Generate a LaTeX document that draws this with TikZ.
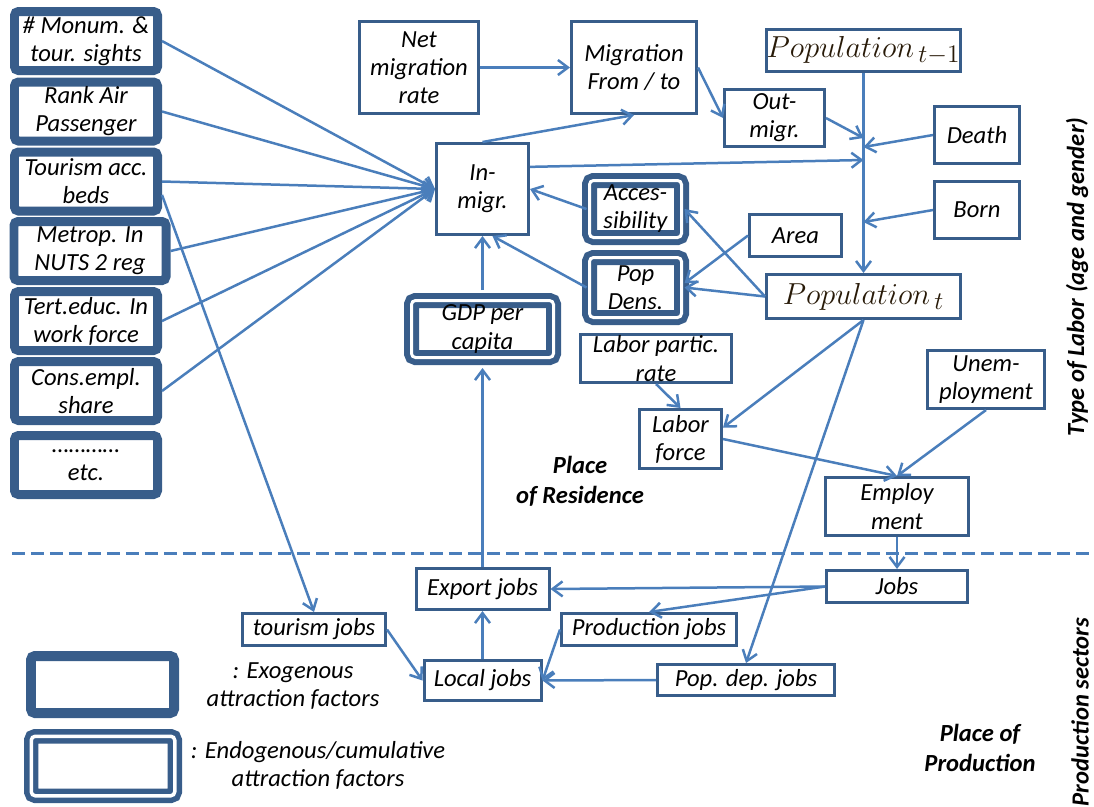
\documentclass[tikz,border=0pt]{standalone}
\usepackage{fontspec}
\setmainfont{Carlito}
\usepackage{xcolor}
\usetikzlibrary{arrows.meta,positioning}
\definecolor{boxblue}{RGB}{56,93,138}
\definecolor{lineblue}{RGB}{74,126,187}
\definecolor{popcol}{RGB}{40,26,8}
\tikzset{
  sz/.style 2 args={minimum width=#1*0.02cm,minimum height=#2*0.02cm},
  box/.style={draw=boxblue,line width=0.06cm,fill=white,inner sep=0pt,align=center,
    font=\fontsize{14}{16}\selectfont\itshape},
  exo/.style={box,line width=0.18cm,rounded corners=0.08cm},
  endo/.style={box,line width=0.12cm,double=white,double distance=0.06cm,rounded corners=0.08cm},
  popnode/.style={box,text=popcol,font=\fontsize{19}{22}\selectfont},
  lbl/.style={align=center,font=\fontsize{14}{16}\selectfont\itshape},
  place/.style={align=center,font=\fontsize{14}{17}\selectfont\bfseries\itshape}
}
\tikzstyle{flow} = [draw=lineblue,line width=0.05cm,->,>={Straight Barb[length=2mm,width=3mm]}]

\begin{document}
\begin{tikzpicture}[x=0.02cm,y=-0.02cm]
  \useasboundingbox (0,0) rectangle (1094,806);

  % exogenous factors
  \node[exo,sz={143}{59}] (monum)    at (86,41)    {\# Monum. \&\\tour. sights};
  \node[exo,sz={143}{59}] (rankair)  at (86,111.5) {Rank Air\\Passenger};
  \node[exo,sz={143}{59}] (tourbeds) at (86,181.5) {Tourism acc.\\beds};
  \node[exo,sz={152}{59}] (metrop)   at (90,251)   {Metrop. In\\NUTS 2 reg};
  \node[exo,sz={143}{59}] (terteduc) at (86,321)   {Tert.educ. In\\work force};
  \node[exo,sz={143}{59}] (consempl) at (86,391)   {Cons.empl.\\share};
  \node[exo,sz={143}{59}] (etc)      at (86,465)   {…………\\etc.};

  % migration and population
  \node[box,sz={119}{92}]     (netrate) at (419,67.5)   {Net\\migration\\rate};
  \node[box,sz={125}{92}]     (migft)   at (634,67.5)   {Migration\\From / to};
  \node[box,sz={92}{91}]      (inmigr)  at (482.5,189)  {In-\\migr.};
  \node[box,sz={100}{57}]     (outmigr) at (774.5,118)  {Out-\\migr.};
  \node[popnode,sz={194}{42}] (poptm)   at (863.5,50.5) {$Population_{\,t-1}$};
  \node[box,sz={85}{57}]      (death)   at (977,135)    {Death};
  \node[box,sz={85}{57}]      (born)    at (977,210)    {Born};
  \node[box,sz={92}{42}]      (area)    at (795.5,235.5) {Area};
  \node[popnode,sz={194}{44}] (popt)    at (863.5,296.5) {$Population_{\,t}$};
  \node[endo,sz={92}{57}]     (access)  at (635.5,209)  {Acces-\\sibility};
  \node[endo,sz={92}{60}]     (popdens) at (635.5,287.5) {Pop\\Dens.};
  \node[endo,sz={142}{57}]    (gdp)     at (482.5,329)  {GDP per\\capita};

  % labour market
  \node[box,sz={151}{48}] (lpr)    at (656,358.5)  {Labor partic.\\rate};
  \node[box,sz={82}{59}]  (lforce) at (680.5,439)  {Labor\\force};
  \node[box,sz={117}{58}] (unemp)  at (986,379.5)  {Unem-\\ployment};
  \node[box,sz={143}{58}] (employ) at (897,506.5)  {Employ\\ment};

  % jobs
  \node[box,sz={141}{32}] (jobs)      at (897,586.5)   {Jobs};
  \node[box,sz={133}{41}] (export)    at (482.5,589)   {Export jobs};
  \node[box,sz={143}{32}] (tourjobs)  at (314,629.5)   {tourism jobs};
  \node[box,sz={175}{32}] (prodjobs)  at (649,629.5)   {Production jobs};
  \node[box,sz={117}{40}] (localjobs) at (482.5,680.5) {Local jobs};
  \node[box,sz={177}{31}] (popdep)    at (746,680)     {Pop. dep. jobs};

  % legend
  \node[exo,line width=0.2cm,sz={143}{57}] (legexo) at (102.5,684.5) {};
  \node[endo,line width=0.11cm,double distance=0.07cm,sz={143.5}{59.5}] (legendo) at (103,766) {};
  \node[lbl] (legexotxt)  at (293,686)   {: Exogenous\\attraction factors};
  \node[lbl] (legendotxt) at (318,765.5) {: Endogenous/cumulative\\attraction factors};

  \node[place] (residence)  at (580,481) {Place\\of Residence};
  \node[place] (production) at (980,748) {Place of\\Production};
  \node[place,rotate=90] (typelabor)   at (1077,277) {Type of Labor (age and gender)};
  \node[place,rotate=90] (prodsectors) at (1080,712) {Production sectors};

  \draw[lineblue,line width=0.06cm,dash pattern=on 0.26cm off 0.12cm] (12,553) -- (1094,553); % residence / production

  \coordinate (jout)   at (863.5,138);
  \coordinate (jdeath) at (863.5,147);
  \coordinate (jin)    at (863.5,160);
  \coordinate (jborn)  at (863.5,222);

  \draw[flow] (monum.east) -- (inmigr.west);
  \draw[flow] (rankair.east) -- (inmigr.west);
  \draw[flow] (tourbeds.east) -- (inmigr.west);
  \draw[flow] (metrop.east) -- (inmigr.west);
  \draw[flow] (terteduc.east) -- (inmigr.west);
  \draw[flow] (consempl.east) -- (inmigr.west);
  \draw[flow] (tourbeds.-10) -- (tourjobs.north);

  \draw[flow] (netrate.east) -- (migft.west);
  \draw[flow] (inmigr.north) -- (migft.south);
  \draw[flow] (migft.east) -- (outmigr.west);
  \draw[flow] (outmigr.east) -- (jout);
  \draw[flow] (poptm.south) -- (popt.north);
  \draw[flow] (death.west) -- (jdeath);
  \draw[flow] (inmigr.25) -- (jin);
  \draw[flow] (born.west) -- (jborn);

  \draw[flow] (access.west) -- (inmigr.east);
  \draw[flow] (popdens.west) -- (inmigr.-78);
  \draw[flow,shorten <=0.15cm] (gdp.north) -- (inmigr.south);
  \draw[flow,shorten >=0.15cm] (export.north) -- (gdp.south);
  \draw[flow] (popt.west) -- (access.east);
  \draw[flow] (popt.west) -- (popdens.east);
  \draw[flow] (area.west) -- (popdens.5);

  \draw[flow] (popt.south) -- (lforce.15);
  \draw[flow] (popt.south) -- (popdep.north);
  \draw[flow] (lpr.south) -- (lforce.north);
  \draw[flow] (lforce.east) -- (employ.north);
  \draw[flow] (unemp.south) -- (employ.north);
  \draw[flow] (employ.south) -- (jobs.north);

  \draw[flow] (jobs.west) -- (export.east);
  \draw[flow] (jobs.west) -- (prodjobs.north);
  \draw[flow] (prodjobs.west) -- (localjobs.east);
  \draw[flow] (popdep.west) -- (localjobs.east);
  \draw[flow] (tourjobs.east) -- (localjobs.west);
  \draw[flow] (localjobs.north) -- (export.south);
\end{tikzpicture}
\end{document}
